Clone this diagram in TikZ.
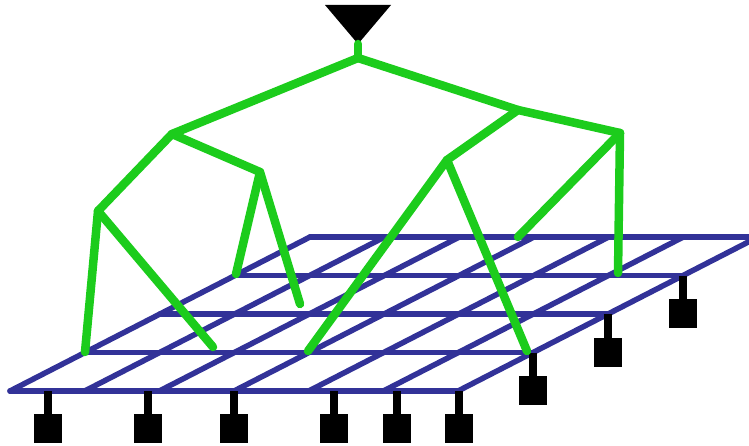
\documentclass[tikz,border=0pt]{standalone}
\definecolor{gridblue}{RGB}{50,50,152}
\definecolor{wiregreen}{RGB}{28,204,28}
\begin{document}
\begin{tikzpicture}[x=1pt,y=-1pt,
  gridline/.style={draw=gridblue,line width=5.5pt,line cap=round},
  wire/.style={draw=wiregreen,line width=8.5pt,line cap=round,line join=round},
  stemline/.style={draw=black,line width=8pt},
  pad/.style={fill=black,minimum width=28pt,minimum height=29pt,inner sep=0pt,anchor=north,draw=none},
]
\useasboundingbox (0,0) rectangle (749,446);
% grid
\foreach \j in {0,...,4}{
  \coordinate (rowL\j) at ({10+75*\j},{391-38.5*\j});
  \coordinate (rowR\j) at ({458+75*\j},{391-38.5*\j});
  \draw[gridline] (rowL\j) -- (rowR\j);
}
\foreach \i in {0,...,6}{
  \coordinate (colB\i) at ({10+74.67*\i},391);
  \coordinate (colT\i) at ({310+74.67*\i},237);
  \draw[gridline] (colB\i) -- (colT\i);
}
% legs on front edge
\foreach \n/\x in {1/48,2/148,3/234,4/334,5/397,6/459}{
  \coordinate (f\n) at (\x,391);
  \node[pad] (fp\n) at (\x,414) {};
  \draw[stemline] (f\n) -- (fp\n.north);
}
% legs on right edge
\foreach \n/\x/\y in {1/533/352.5,2/608/314,3/683/275.5}{
  \coordinate (s\n) at (\x,\y);
  \node[pad] (sp\n) at (\x,\y+23.5) {};
  \draw[stemline] (s\n) -- (sp\n.north);
}
% source triangle
\coordinate (tl) at (325,5);
\coordinate (tr) at (391,5);
\coordinate (tip) at (358,44);
\fill (tl) -- (tr) -- (tip) -- cycle;
% tree
\coordinate (r) at (358,58);
\coordinate (A) at (172,134);
\coordinate (B) at (518,110);
\coordinate (C) at (620,133);
\coordinate (D) at (447,160);
\coordinate (E) at (98,211);
\coordinate (F) at (260,172);
\coordinate (e1) at (85,352);
\coordinate (e2) at (213,347);
\coordinate (f1) at (236,274);
\coordinate (f2) at (300,304);
\coordinate (d1) at (308,351);
\coordinate (d2) at (527,351);
\coordinate (c1) at (518,237);
\coordinate (c2) at (618,273);
\draw[wire] (tip) -- (r);
\draw[wire] (r) -- (A);
\draw[wire] (r) -- (B);
\draw[wire] (B) -- (C);
\draw[wire] (B) -- (D);
\draw[wire] (A) -- (E);
\draw[wire] (A) -- (F);
\draw[wire] (E) -- (e1);
\draw[wire] (E) -- (e2);
\draw[wire] (F) -- (f1);
\draw[wire] (F) -- (f2);
\draw[wire] (D) -- (d1);
\draw[wire] (D) -- (d2);
\draw[wire] (C) -- (c1);
\draw[wire] (C) -- (c2);
\end{tikzpicture}
\end{document}
